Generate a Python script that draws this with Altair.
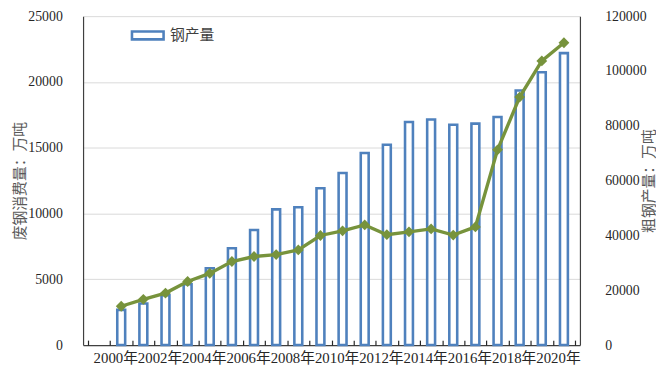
import altair as alt
import pandas as pd

years = list(range(2000, 2021))
steel_output = [12850, 15200, 18200, 22200, 28000, 35300, 42000, 49500, 50300, 57200, 62800,
                70100, 73100, 81400, 82300, 80400, 80800, 83200, 92900, 99500, 106500]
scrap_use = [2950, 3480, 3950, 4830, 5450, 6350, 6730, 6880, 7230, 8330, 8680,
             9130, 8390, 8610, 8830, 8360, 8980, 14840, 18850, 21600, 22980]
label_years = [2000, 2002, 2004, 2006, 2008, 2010, 2012, 2014, 2016, 2018, 2020]
tick_pos = [y + 0.5 for y in range(1998, 2021)]
left_ticks = [0, 5000, 10000, 15000, 20000, 25000]
right_ticks = [0, 20000, 40000, 60000, 80000, 100000, 120000]

df = pd.DataFrame({"year": years, "steel": steel_output, "scrap": scrap_use,
                   "series": ["钢产量"] * len(years)})

FONT = "Liberation Serif, Noto Sans CJK SC"
BLUE = "#4F81BD"
GREEN = "#77933C"

xscale = alt.Scale(domain=[1998.5, 2020.5], nice=False, zero=False)

bars = alt.Chart(df).mark_bar(size=8, fill="white", strokeWidth=2.6).encode(
    x=alt.X("year:Q", scale=xscale,
            axis=alt.Axis(values=label_years, labelExpr="datum.value + '年'", ticks=False,
                          grid=False, domainColor="#404040", domainWidth=1.2,
                          labelOverlap=False, labelPadding=6, labelFontSize=15,
                          labelOffset=-6, title=None)),
    y=alt.Y("steel:Q", scale=alt.Scale(domain=[0, 120000], nice=False),
            axis=alt.Axis(orient="right", values=right_ticks, format="d", ticks=False,
                          grid=False, domainColor="#404040", domainWidth=1.2,
                          labelPadding=25, labelFontSize=14, labelAlign="left",
                          title="粗钢产量：万吨", titleAngle=270, titlePadding=10,
                          titleFontSize=15, titleFontWeight="normal", titleColor="#595959")),
    stroke=alt.Stroke("series:N", scale=alt.Scale(range=[BLUE]),
                      legend=alt.Legend(title=None, orient="none", legendX=48, legendY=2,
                                        symbolType="M-1,-0.25H1V0.25H-1Z", symbolSize=1024,
                                        symbolFillColor="white", symbolStrokeWidth=2.6,
                                        labelFontSize=15, labelOffset=5, padding=0,
                                        labelColor="#404040")),
)

line = alt.Chart(df).mark_line(
    color=GREEN, strokeWidth=3.4,
    point=alt.OverlayMarkDef(shape="diamond", size=120, filled=True, color=GREEN),
).encode(
    x=alt.X("year:Q", scale=xscale,
            axis=alt.Axis(orient="top", offset=-333, values=tick_pos, labels=False,
                          ticks=True, tickSize=5, tickWidth=1.2, tickColor="#262626",
                          domain=False, grid=False, title=None)),
    y=alt.Y("scrap:Q", scale=alt.Scale(domain=[0, 25000], nice=False),
            axis=alt.Axis(orient="left", values=left_ticks, format="d", ticks=False,
                          grid=True, gridColor="#D9D9D9", gridWidth=1,
                          domainColor="#404040", domainWidth=1.2,
                          labelPadding=21, labelFontSize=14,
                          title="废钢消费量：万吨", titlePadding=0, titleFontSize=15,
                          titleFontWeight="normal", titleColor="#595959")),
)

chart = alt.layer(bars, line).resolve_scale(y="independent").resolve_axis(
    x="independent", y="independent"
).properties(
    width=503, height=333,
    padding={"left": 76, "top": 6, "right": 77, "bottom": 24},
    autosize=alt.AutoSizeParams(type="none"),
).configure_view(stroke=None).configure_axis(
    labelFont=FONT, titleFont=FONT, labelColor="#262626"
).configure_legend(labelFont=FONT)

chart.save("out.html", embed_options={"renderer": "svg", "actions": False})
